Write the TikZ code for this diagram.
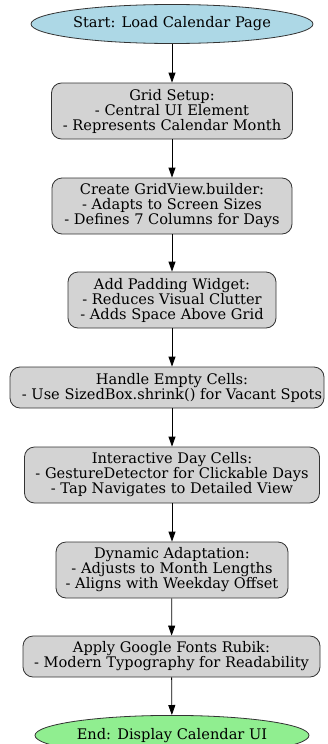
\documentclass[tikz,border=0pt]{standalone}
\usepackage{fontspec}
\setmainfont{DejaVu Serif}
\usetikzlibrary{shapes.geometric,arrows.meta}
\definecolor{startc}{HTML}{ADD8E6}
\definecolor{procc}{HTML}{D3D3D3}
\definecolor{endc}{HTML}{90EE90}
\begin{document}
\begin{tikzpicture}[x=1pt,y=-1pt,
  txt/.style={font=\fontsize{14.6}{15}\selectfont, align=center},
  term/.style={txt, ellipse, draw=black!80, line width=0.8pt, inner sep=0pt},
  proc/.style={txt, rectangle, rounded corners=10pt, draw=black!80, line width=0.8pt, fill=procc, inner xsep=0pt, inner ysep=0pt},
  flow/.style={-{Triangle[length=10pt,width=7pt]}, line width=0.8pt}]
\useasboundingbox (0,0) rectangle (327,744);
\node[term, fill=startc, minimum width=282pt, minimum height=39pt] (start) at (172,24) {Start: Load Calendar Page};
\node[proc, minimum width=241pt, minimum height=56pt] (grid) at (172,111) {Grid Setup:\\- Central UI Element\\- Represents Calendar Month};
\node[proc, minimum width=240pt, minimum height=56pt] (gv) at (172,206) {Create GridView.builder:\\- Adapts to Screen Sizes\\- Defines 7 Columns for Days};
\node[proc, minimum width=208pt, minimum height=56pt] (pad) at (172,300) {Add Padding Widget:\\- Reduces Visual Clutter\\- Adds Space Above Grid};
\node[proc, minimum width=314pt, minimum height=41pt] (empty) at (167,387.5) {\hspace*{10pt}Handle Empty Cells:\\\hspace*{10pt}- Use SizedBox.shrink() for Vacant Spots};
\node[proc, minimum width=295pt, minimum height=56pt] (inter) at (172,475) {Interactive Day Cells:\\- GestureDetector for Clickable Days\\- Tap Navigates to Detailed View};
\node[proc, minimum width=232pt, minimum height=56pt] (dyn) at (172,570) {Dynamic Adaptation:\\- Adjusts to Month Lengths\\- Aligns with Weekday Offset};
\node[proc, minimum width=297pt, minimum height=41pt] (font) at (171.5,656.5) {Apply Google Fonts Rubik:\\- Modern Typography for Readability};
\node[term, fill=endc, minimum width=274pt, minimum height=40pt, anchor=north] (end) at (172,715) {End: Display Calendar UI};
\draw[flow] (start) -- (grid);
\draw[flow] (grid) -- (gv);
\draw[flow] (gv) -- (pad);
\draw[flow] (pad) -- (empty.north -| pad.south);
\draw[flow] (empty.south -| inter.north) -- (inter);
\draw[flow] (inter) -- (dyn);
\draw[flow] (dyn) -- (font);
\draw[flow] (font) -- (end);
\end{tikzpicture}
\end{document}
